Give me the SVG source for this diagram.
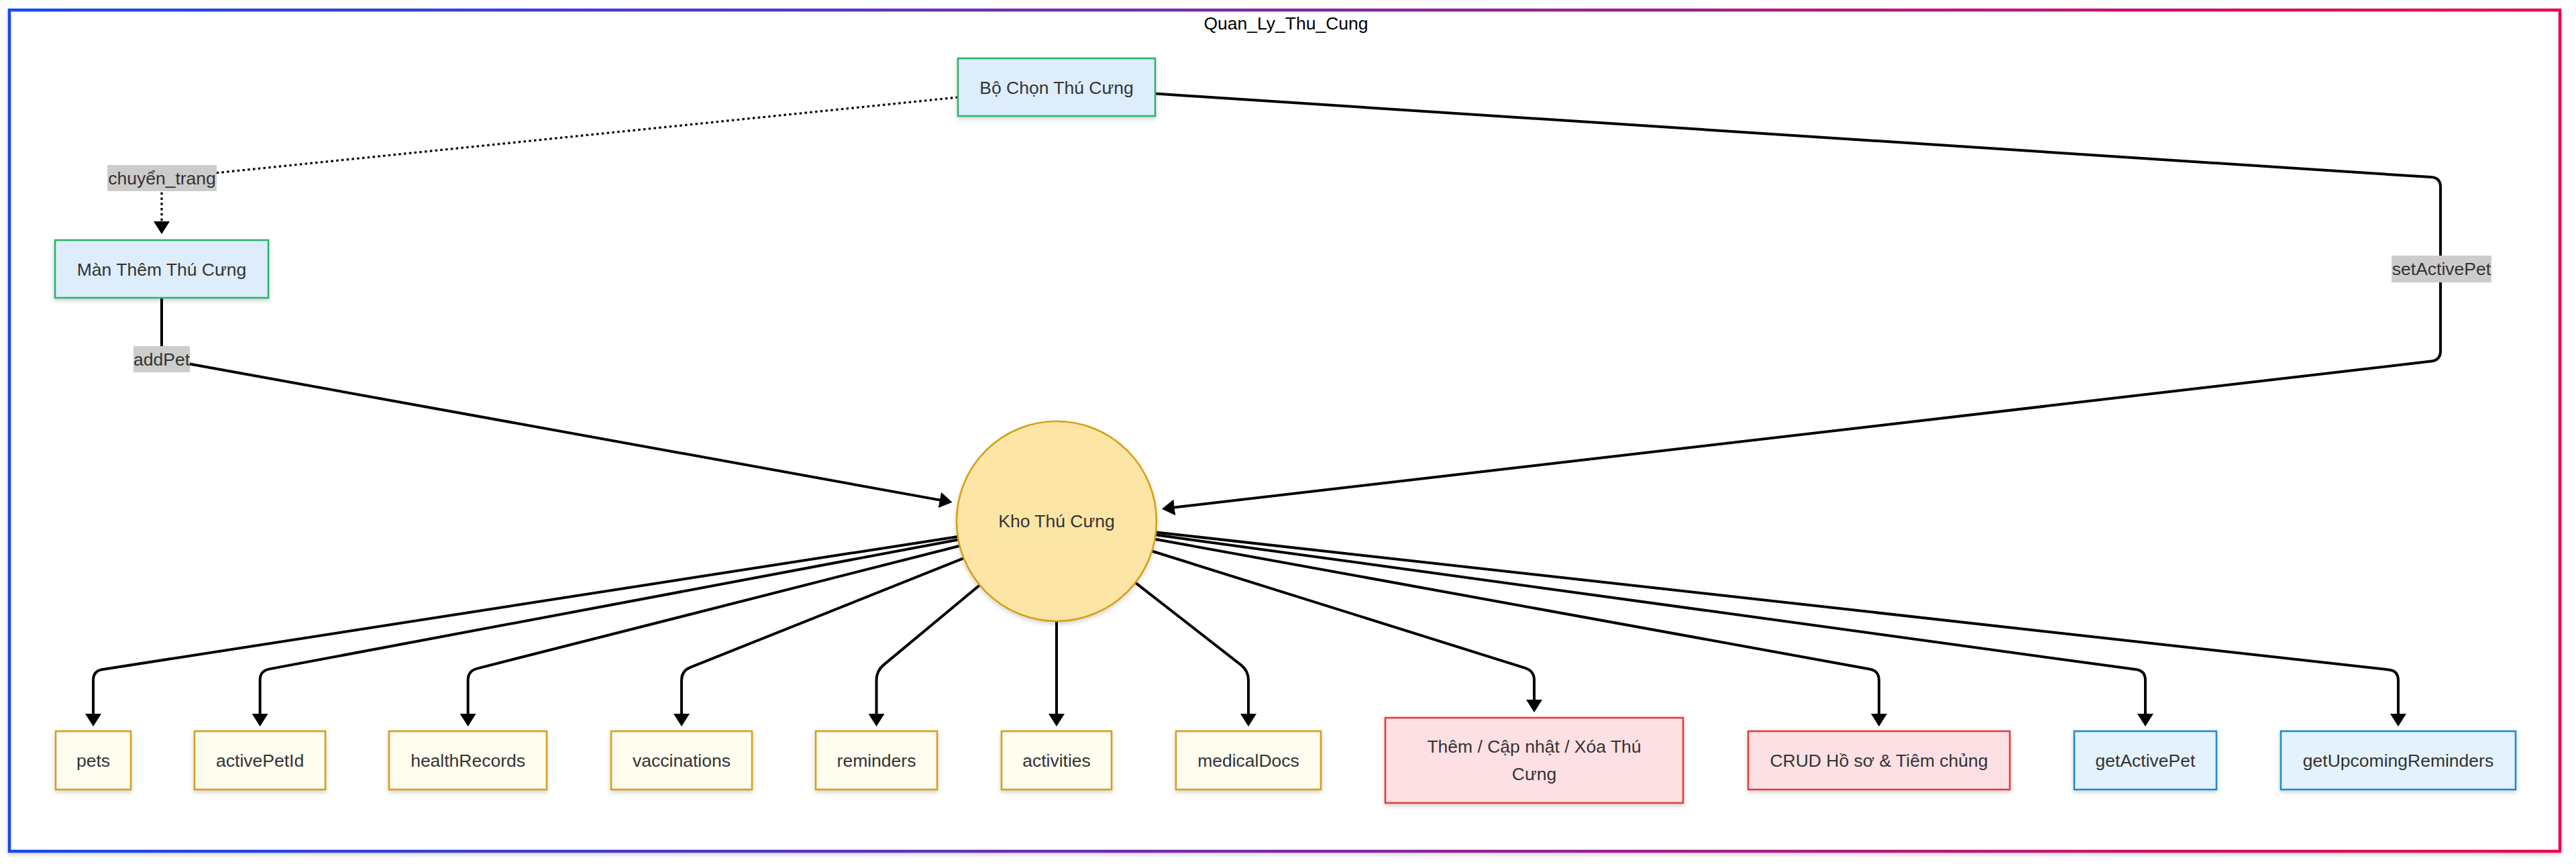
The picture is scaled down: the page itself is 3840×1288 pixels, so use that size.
<svg xmlns="http://www.w3.org/2000/svg" width="3840" height="1288" viewBox="0 0 3840 1288">
  <defs>
    <linearGradient id="frameGrad" gradientUnits="userSpaceOnUse" x1="14" y1="0" x2="3816" y2="0">
      <stop offset="0" stop-color="#1447f0"/>
      <stop offset="0.5" stop-color="#7d28a3"/>
      <stop offset="1" stop-color="#f0054b"/>
    </linearGradient>
    <filter id="shadow" x="-10%" y="-10%" width="120%" height="130%">
      <feDropShadow dx="0" dy="3" stdDeviation="3" flood-color="#000" flood-opacity="0.18"/>
    </filter>
    <marker id="arrow" markerUnits="userSpaceOnUse" viewBox="0 0 19 24" markerWidth="19" markerHeight="24" refX="14" refY="12" orient="auto">
      <path d="M0,0 L19,12 L0,24 z" fill="#000"/>
    </marker>
    <style>
      text { font-family: "Liberation Sans", Arial, "Noto Sans", sans-serif; font-size: 26.5px; fill: #333; text-anchor: middle; }
      .title { fill: #000; }
      .ui rect { fill: #ddedfc; stroke: #2fb36d; stroke-width: 2.6; filter: url(#shadow); }
      .store circle { fill: #fde5a5; stroke: #d4a012; stroke-width: 2.6; filter: url(#shadow); }
      .state rect { fill: #fffcf0; stroke: #d4a012; stroke-width: 2.6; filter: url(#shadow); }
      .action rect { fill: #fde0e3; stroke: #e23c42; stroke-width: 2.6; filter: url(#shadow); }
      .getter rect { fill: #e4f2fd; stroke: #1a8ad4; stroke-width: 2.6; filter: url(#shadow); }
      .edge { fill: none; stroke: #000; stroke-width: 4; marker-end: url(#arrow); }
      .dotted { stroke-width: 3.2; stroke-dasharray: 3.5 4.3; }
      .elabel rect { fill: #cccccc; }
    </style>
  </defs>

  <!-- cluster frame -->
  <g id="Quan_Ly_Thu_Cung">
    <rect x="14" y="15" width="3802" height="1254" fill="#fff" stroke="url(#frameGrad)" stroke-width="4.5" filter="url(#shadow)"/>
    <text class="title" x="1917" y="44">Quan_Ly_Thu_Cung</text>
  </g>

  <!-- connectors -->
  <g id="connectors">
    <path class="edge dotted" d="M1428,145 L254.9,264.6 Q241,266 241,280 L241,344"/>
    <path class="edge" d="M241,444 L241,521 Q241,535 254.8,537.5 L1414.6,747.9"/>
    <path class="edge" d="M1722,139.6 L3624,264.1 Q3638,265 3638,279 L3638,523 Q3638,537 3624.1,538.6 L1736.9,758.1"/>

    <path class="edge" d="M1427.8,799.9 L152.8,997.9 Q139,1000 139,1014 L139,1078"/>
    <path class="edge" d="M1428.6,804.5 L401.4,997.4 Q387.6,1000 387.6,1014 L387.6,1078"/>
    <path class="edge" d="M1430.6,813.7 L711.2,996.6 Q697.6,1000 697.6,1014 L697.6,1078"/>
    <path class="edge" d="M1436.6,832.2 L1029,994.8 Q1016,1000 1016,1014 L1016,1078"/>
    <path class="edge" d="M1460.4,872.2 L1317.3,991.1 Q1306.5,1000 1306.5,1014 L1306.5,1078"/>
    <path class="edge" d="M1575,926 L1575,1078"/>
    <path class="edge" d="M1692.5,868.6 L1850,991.4 Q1861,1000 1861,1014 L1861,1078"/>
    <path class="edge" d="M1717.2,821.5 L2273.6,995.8 Q2287,1000 2287,1014 L2287,1057"/>
    <path class="edge" d="M1721.6,803.7 L2787.2,997.5 Q2801,1000 2801,1014 L2801,1078"/>
    <path class="edge" d="M1722.6,797.3 L3184.1,998.1 Q3198,1000 3198,1014 L3198,1078"/>
    <path class="edge" d="M1723.1,793.5 L3561.1,998.4 Q3575,1000 3575,1014 L3575,1078"/>

    <g class="elabel">
      <rect x="160" y="246" width="163" height="39"/>
      <text x="241.5" y="274.5">chuyển_trang</text>
      <rect x="199" y="516" width="84" height="39"/>
      <text x="241" y="544.5">addPet</text>
      <rect x="3565" y="381" width="149" height="40"/>
      <text x="3639.5" y="410">setActivePet</text>
    </g>
  </g>

  <!-- screens -->
  <g id="BoChonThuCung" class="ui">
    <rect x="1428" y="87" width="294" height="86"/>
    <text x="1575" y="139.5">Bộ Chọn Thú Cưng</text>
  </g>
  <g id="ManThemThuCung" class="ui">
    <rect x="82" y="358" width="318" height="86"/>
    <text x="241" y="410.5">Màn Thêm Thú Cưng</text>
  </g>

  <!-- store -->
  <g id="KhoThuCung" class="store">
    <circle cx="1575" cy="777" r="149"/>
    <text x="1575" y="786">Kho Thú Cưng</text>
  </g>

  <!-- state fields -->
  <g id="pets" class="state">
    <rect x="83" y="1090" width="112" height="87"/>
    <text x="139" y="1142.5">pets</text>
  </g>
  <g id="activePetId" class="state">
    <rect x="290" y="1090" width="195" height="87"/>
    <text x="387.6" y="1142.5">activePetId</text>
  </g>
  <g id="healthRecords" class="state">
    <rect x="580" y="1090" width="235" height="87"/>
    <text x="697.6" y="1142.5">healthRecords</text>
  </g>
  <g id="vaccinations" class="state">
    <rect x="911" y="1090" width="210" height="87"/>
    <text x="1016" y="1142.5">vaccinations</text>
  </g>
  <g id="reminders" class="state">
    <rect x="1216" y="1090" width="181" height="87"/>
    <text x="1306.5" y="1142.5">reminders</text>
  </g>
  <g id="activities" class="state">
    <rect x="1493" y="1090" width="164" height="87"/>
    <text x="1575" y="1142.5">activities</text>
  </g>
  <g id="medicalDocs" class="state">
    <rect x="1753" y="1090" width="216" height="87"/>
    <text x="1861" y="1142.5">medicalDocs</text>
  </g>

  <!-- actions -->
  <g id="ThemCapNhatXoa" class="action">
    <rect x="2065" y="1070" width="444" height="127"/>
    <text x="2287" y="1122">Thêm / Cập nhật / Xóa Thú</text>
    <text x="2287" y="1163">Cưng</text>
  </g>
  <g id="CRUDHoSo" class="action">
    <rect x="2606" y="1090" width="390" height="87"/>
    <text x="2801" y="1142.5">CRUD Hồ sơ &amp; Tiêm chủng</text>
  </g>

  <!-- getters -->
  <g id="getActivePet" class="getter">
    <rect x="3092" y="1090" width="212" height="87"/>
    <text x="3198" y="1142.5">getActivePet</text>
  </g>
  <g id="getUpcomingReminders" class="getter">
    <rect x="3400" y="1090" width="350" height="87"/>
    <text x="3575" y="1142.5">getUpcomingReminders</text>
  </g>
</svg>
